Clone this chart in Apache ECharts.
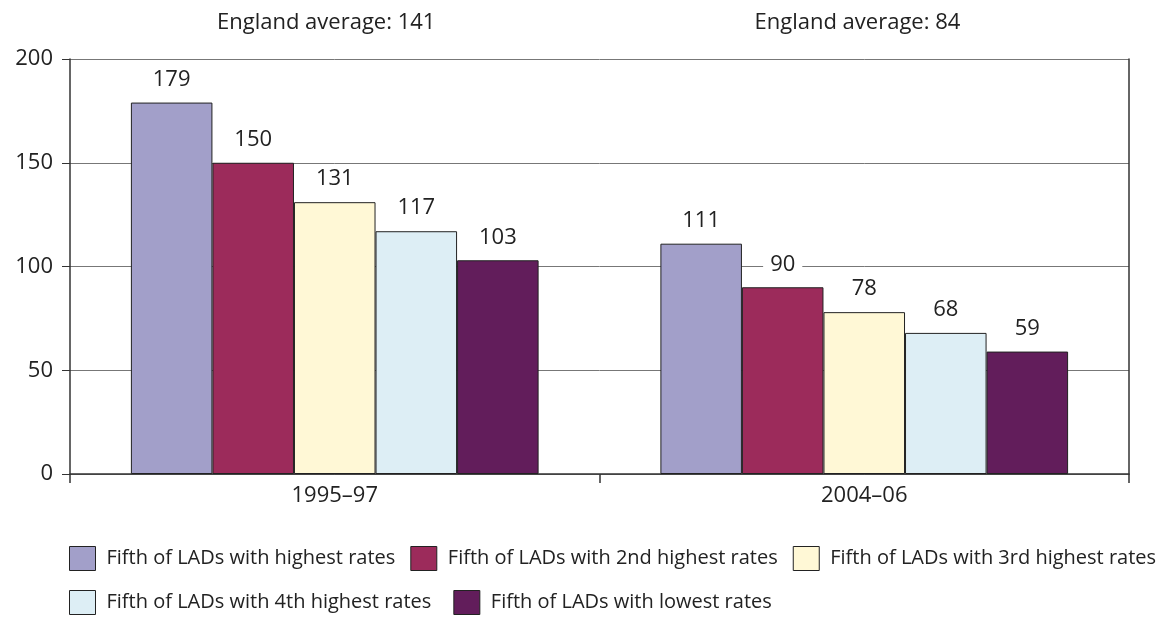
<!DOCTYPE html>
<html>
<head>
<meta charset="utf-8">
<script src="https://cdn.jsdelivr.net/npm/echarts@6/dist/echarts.min.js"></script>
<style>
  html, body { margin: 0; padding: 0; background: #fff; }
  #chart { width: 1169px; height: 618px; }
</style>
</head>
<body>
<div id="chart"></div>
<script>
// Periods on the category axis
const periods = ['1995\u201397', '2004\u201306'];

// One series per fifth of local authority districts
const seriesNames = [
  'Fifth of LADs with highest rates',
  'Fifth of LADs with 2nd highest rates',
  'Fifth of LADs with 3rd highest rates',
  'Fifth of LADs with 4th highest rates',
  'Fifth of LADs with lowest rates'
];
const highest = [179, 111];
const secondHighest = [150, 90];
const thirdHighest = [131, 78];
const fourthHighest = [117, 68];
const lowest = [103, 59];

// England average per period, shown above the plot
const englandAverage = [141, 84];

// Value axis ticks
const yTicks = [0, 50, 100, 150, 200];

const colors = ['#a29fc9', '#9c2b5b', '#fff8d6', '#ddeef5', '#621d5b'];
const values = [highest, secondHighest, thirdHighest, fourthHighest, lowest];
const FONT = '"Open Sans", sans-serif';
const TEXT = '#222';

const chart = echarts.init(document.getElementById('chart'));

const series = seriesNames.map((name, i) => ({
  name: name,
  type: 'bar',
  data: values[i],
  barGap: '0%',
  barCategoryGap: '23%',
  itemStyle: { color: colors[i], borderColor: '#222', borderWidth: 1 },
  label: {
    show: true,
    position: 'top',
    distance: 12,
    color: TEXT,
    fontFamily: FONT,
    fontSize: 22,
    backgroundColor: '#fff',
    padding: [2, 7, 0, 7]
  },
  z: 3
}));

const legendText = {
  color: TEXT,
  fontFamily: FONT,
  fontSize: 20,
  padding: [0, 0, 0, 6]
};
const legendItemStyle = { borderColor: '#222', borderWidth: 1 };

chart.setOption({
  animation: false,
  grid: { left: 70, right: 40, top: 59, bottom: 144, containLabel: false },
  legend: [
    {
      data: seriesNames.slice(0, 3),
      left: 69, top: 546, padding: 0,
      itemWidth: 26, itemHeight: 24, itemGap: 15,
      icon: 'rect',
      itemStyle: legendItemStyle,
      textStyle: legendText,
      selectedMode: false
    },
    {
      data: seriesNames.slice(3),
      left: 69, top: 590, padding: 0,
      itemWidth: 26, itemHeight: 24, itemGap: 22,
      icon: 'rect',
      itemStyle: legendItemStyle,
      textStyle: legendText,
      selectedMode: false
    }
  ],
  xAxis: {
    type: 'category',
    data: periods,
    axisLine: { show: true, lineStyle: { color: '#333', width: 1.5 } },
    axisTick: { show: true, length: 9, lineStyle: { color: '#333', width: 1.5 } },
    axisLabel: { color: TEXT, fontFamily: FONT, fontSize: 22, margin: 11 },
    splitLine: { show: false }
  },
  yAxis: [
    {
      type: 'value',
      min: 0, max: 200, interval: 50,
      axisLine: { show: true, lineStyle: { color: '#333', width: 1.5 } },
      axisTick: { show: true, length: 8, lineStyle: { color: '#333' } },
      axisLabel: {
        color: TEXT, fontFamily: FONT, fontSize: 22, margin: 17,
        formatter: v => (yTicks.includes(v) ? String(v) : '')
      },
      splitLine: { show: true, lineStyle: { color: '#777', width: 1 } }
    },
    {
      type: 'value',
      position: 'right',
      min: 0, max: 200, interval: 50,
      axisLine: { show: true, lineStyle: { color: '#333', width: 1.5 } },
      axisTick: { show: false },
      axisLabel: { show: false },
      splitLine: { show: false }
    }
  ],
  series: series
});

// England average captions, one above each period, placed from the
// left boundary of that period's band
const bandWidth = chart.convertToPixel({ xAxisIndex: 0 }, periods[1]) -
                  chart.convertToPixel({ xAxisIndex: 0 }, periods[0]);
const captionIndent = [147, 155];
const captions = periods.map((p, i) => {
  const start = chart.convertToPixel({ xAxisIndex: 0 }, p) - bandWidth / 2;
  return {
    type: 'text',
    x: start + captionIndent[i],
    y: 23,
    style: {
      text: 'England average: ' + englandAverage[i],
      fill: TEXT,
      font: '22px ' + FONT,
      textAlign: 'left',
      textVerticalAlign: 'middle'
    }
  };
});
chart.setOption({ graphic: captions });
</script>
</body>
</html>
